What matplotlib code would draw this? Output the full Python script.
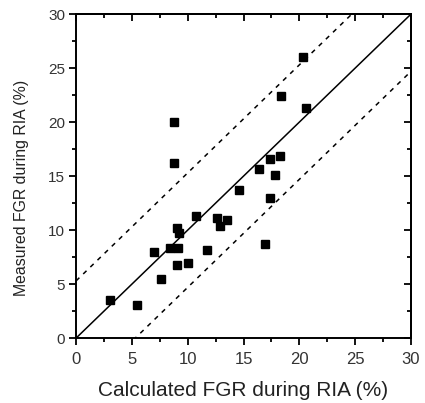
import numpy as np
import matplotlib
matplotlib.use('Agg')
import matplotlib.pyplot as plt
from matplotlib.ticker import MultipleLocator

plt.rcParams['font.family'] = ['Liberation Sans', 'DejaVu Sans']

# calculated vs measured FGR (%)
calc = [20.3, 18.4, 20.6, 8.8, 8.8, 18.3, 17.4, 16.4, 17.8,
        14.6, 17.4, 10.7, 12.6, 13.5, 12.9, 9.0, 9.2, 7.0, 8.4,
        9.1, 11.7, 16.9, 10.0, 9.0, 7.6, 3.0, 5.5]
meas = [26.0, 22.4, 21.3, 20.0, 16.2, 16.9, 16.6, 15.7, 15.1,
        13.7, 13.0, 11.3, 11.1, 10.9, 10.4, 10.2, 9.7, 8.0, 8.3,
        8.3, 8.2, 8.7, 7.0, 6.8, 5.5, 3.5, 3.1]
band = 5.3
line_x = [0, 30]

fig = plt.figure(figsize=(4.25, 4.03), dpi=100)
ax = fig.add_axes([0.179, 0.161, 0.788, 0.804])

ax.plot(line_x, line_x, 'k-', lw=1.1)
ax.plot(line_x, [v + band for v in line_x], 'k--', lw=1.1, dashes=(3, 3.5))
ax.plot(line_x, [v - band for v in line_x], 'k--', lw=1.1, dashes=(3, 3.5))
ax.plot(calc, meas, 's', color='black', ms=6.3, mec='black', clip_on=False)

ax.set_xlim(0, 30)
ax.set_ylim(0, 30)
for a in (ax.xaxis, ax.yaxis):
    a.set_major_locator(MultipleLocator(5))
    a.set_minor_locator(MultipleLocator(2.5))
ax.tick_params(which='both', direction='out', width=1.3, colors='black', labelcolor='#333333')
ax.tick_params(which='major', length=5)
ax.tick_params(which='minor', length=3)
ax.tick_params(axis='x', labelsize=12, pad=5)
ax.tick_params(axis='y', labelsize=11, pad=3)
for s in ax.spines.values():
    s.set_linewidth(1.4)

# top and right: ticks pointing inward, no labels
top = ax.secondary_xaxis('top')
right = ax.secondary_yaxis('right')
for sec, a in ((top, top.xaxis), (right, right.yaxis)):
    a.set_major_locator(MultipleLocator(5))
    a.set_minor_locator(MultipleLocator(2.5))
    sec.tick_params(which='both', direction='in', width=1.3, labeltop=False, labelright=False)
    sec.tick_params(which='major', length=5)
    sec.tick_params(which='minor', length=3)
    for s in sec.spines.values():
        s.set_linewidth(1.4)

ax.set_xlabel('Calculated FGR during RIA (%)', fontsize=15, color='#222222')
ax.set_ylabel('Measured FGR during RIA (%)', fontsize=11.4, color='#222222')
ax.xaxis.set_label_coords(0.5, -0.133)
ax.yaxis.set_label_coords(-0.14, 0.463)

plt.savefig('out.png', dpi=100)
